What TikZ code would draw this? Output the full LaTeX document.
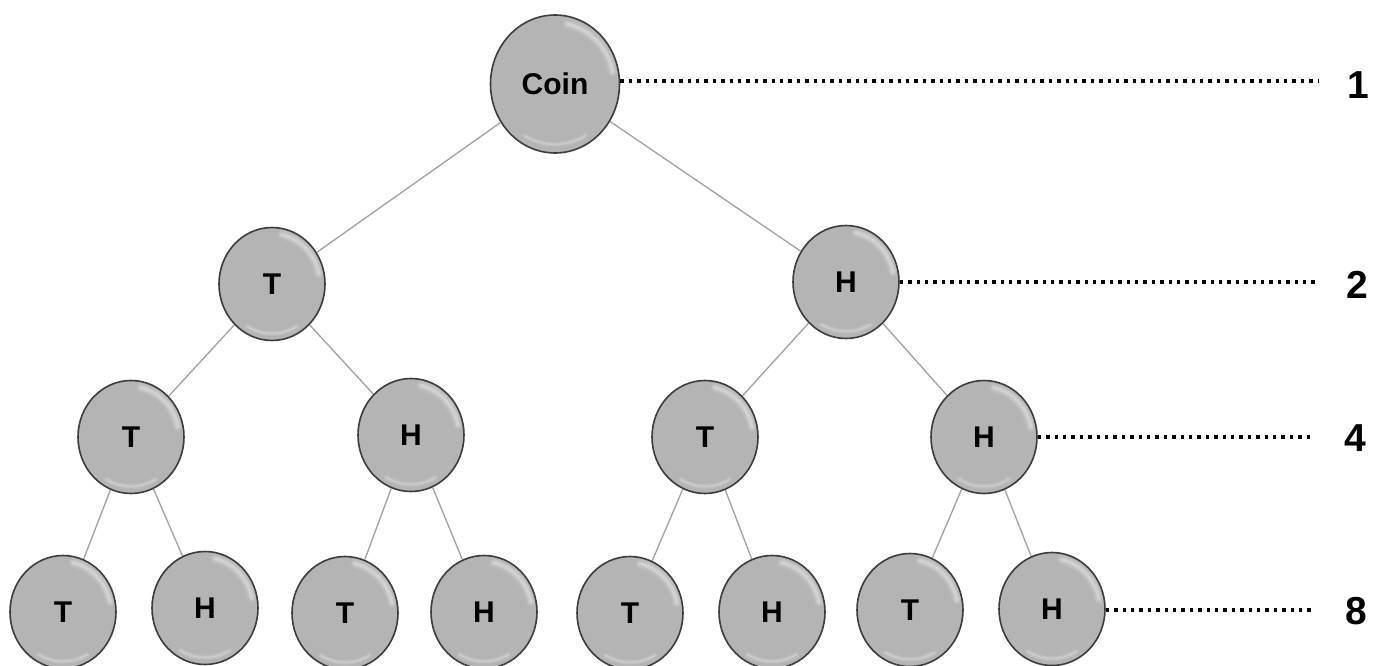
\documentclass[tikz,border=0pt]{standalone}
\usepackage{fontspec}
\setmainfont{Liberation Sans}
\usetikzlibrary{shapes.geometric}
\definecolor{ballfill}{RGB}{180,180,180}
\definecolor{balledge}{RGB}{60,60,60}
\definecolor{edgegray}{RGB}{160,160,160}
\tikzset{
  ball/.style={ellipse, draw=balledge, line width=1.6pt, fill=ballfill,
    minimum width=106pt, minimum height=113pt, inner sep=0pt,
    font=\fontsize{30}{32}\selectfont\bfseries,
    path picture={
      \foreach \w/\o in {10/0.08, 7/0.1, 4.5/0.14, 2.5/0.18}{
        \draw[white, opacity=\o, line width=\w pt, line cap=round]
          ([shift={(12:#1)}]path picture bounding box.center) arc[start angle=12, end angle=78, x radius=#1, y radius=#1+3pt];
        \draw[white, opacity=\o*0.7, line width=\w pt*0.6, line cap=round]
          ([shift={(240:#1+1pt)}]path picture bounding box.center) arc[start angle=240, end angle=300, x radius=#1+1pt, y radius=#1+4pt];
      }
    }},
  ball/.default=48pt,
  bigball/.style={ball=59pt, minimum width=129pt, minimum height=138pt},
  tree/.style={draw=edgegray, line width=1.3pt},
  level/.style={draw=black, line width=3.4pt, dash pattern=on 3.4pt off 5pt},
  count/.style={font=\fontsize{39}{40}\selectfont\bfseries, inner sep=0pt}
}
\begin{document}
\begin{tikzpicture}[x=1pt, y=-1pt]
\useasboundingbox (0,0) rectangle (1385,666);
% level 1
\node[bigball] (c) at (555,84) {Coin};
% level 2
\node[ball] (t) at (272,284) {T};
\node[ball] (h) at (846,282) {H};
% level 3
\node[ball] (tt) at (131,437) {T};
\node[ball] (th) at (411,435) {H};
\node[ball] (ht) at (705,437) {T};
\node[ball] (hh) at (984,437) {H};
% level 4
\node[ball] (ttt) at (63,612) {T};
\node[ball] (tth) at (205,608) {H};
\node[ball] (tht) at (345,613) {T};
\node[ball] (thh) at (484,612) {H};
\node[ball] (htt) at (630,613) {T};
\node[ball] (hth) at (772,612) {H};
\node[ball] (hht) at (910,610) {T};
\node[ball] (hhh) at (1052,609) {H};
% tree edges
\draw[tree] (c) -- (t);
\draw[tree] (c) -- (h);
\draw[tree] (t) -- (tt);
\draw[tree] (t) -- (th);
\draw[tree] (h) -- (ht);
\draw[tree] (h) -- (hh);
\draw[tree] (tt) -- (ttt);
\draw[tree] (tt) -- (tth);
\draw[tree] (th) -- (tht);
\draw[tree] (th) -- (thh);
\draw[tree] (ht) -- (htt);
\draw[tree] (ht) -- (hth);
\draw[tree] (hh) -- (hht);
\draw[tree] (hh) -- (hhh);
% counts
\node[count] (n1) at (1358,85) {1};
\node[count] (n2) at (1357,285) {2};
\node[count] (n4) at (1355,438) {4};
\node[count] (n8) at (1356,611) {8};
\coordinate (e1) at (1318,81);
\coordinate (e2) at (1318,282);
\coordinate (e4) at (1312,437);
\coordinate (e8) at (1312,610);
\draw[level] (c.east |- e1) -- (e1);
\draw[level] (h.east |- e2) -- (e2);
\draw[level] (hh.east |- e4) -- (e4);
\draw[level] (hhh.east |- e8) -- (e8);
\end{tikzpicture}
\end{document}
